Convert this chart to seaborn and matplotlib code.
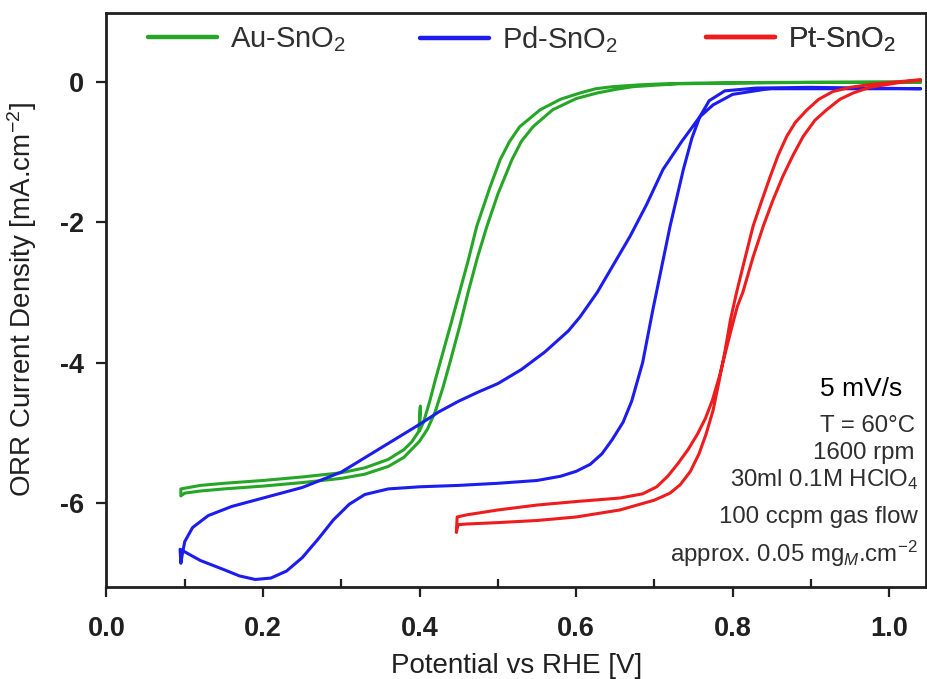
import numpy as np
import pandas as pd
import matplotlib
matplotlib.use("Agg")
import matplotlib.pyplot as plt
import seaborn as sns
from matplotlib.lines import Line2D
from matplotlib.ticker import FixedLocator

# ---------------- data ----------------
# Au-SnO2 : left branch (from high potential down), then right branch back up
au_x = [1.04, 0.95, 0.85, 0.75, 0.71, 0.68, 0.647, 0.625, 0.605, 0.58, 0.554, 0.528,
        0.515, 0.503, 0.49, 0.473, 0.462, 0.451, 0.44, 0.43, 0.42, 0.413, 0.405,
        0.400, 0.401, 0.399, 0.39, 0.38, 0.36, 0.33, 0.30, 0.25, 0.20, 0.15, 0.12, 0.095,
        0.095, 0.10, 0.12, 0.15, 0.20, 0.25, 0.30, 0.33, 0.36, 0.38, 0.40, 0.41, 0.42,
        0.43, 0.44, 0.452, 0.462, 0.474, 0.486, 0.50, 0.518, 0.53, 0.545, 0.57, 0.60,
        0.627, 0.65, 0.673, 0.70, 0.73, 0.80, 0.90, 1.04]
au_y = [0.0, -0.005, -0.01, -0.02, -0.03, -0.045, -0.07, -0.10, -0.16, -0.25, -0.40, -0.64,
        -0.85, -1.11, -1.50, -2.06, -2.55, -3.00, -3.45, -3.85, -4.25, -4.55, -4.85,
        -4.97, -4.62, -4.98, -5.13, -5.24, -5.38, -5.50, -5.57, -5.63, -5.68, -5.72, -5.75, -5.80,
        -5.90, -5.86, -5.83, -5.80, -5.76, -5.71, -5.65, -5.59, -5.48, -5.35, -5.12, -4.95, -4.70,
        -4.35, -3.95, -3.45, -3.00, -2.50, -2.06, -1.60, -1.11, -0.85, -0.64, -0.40, -0.24,
        -0.16, -0.11, -0.07, -0.05, -0.03, -0.02, -0.01, -0.01]

# Pd-SnO2 : gradual branch (down), then lower branch with minimum at 0.19 V (up)
pd_x = [1.04, 0.95, 0.85, 0.84, 0.80, 0.775, 0.758, 0.735, 0.711, 0.69, 0.669, 0.648,
        0.627, 0.605, 0.59, 0.56, 0.53, 0.50, 0.475, 0.45, 0.425, 0.40, 0.35, 0.30, 0.25,
        0.20, 0.16, 0.13, 0.11, 0.10, 0.097, 0.095, 0.094,
        0.12, 0.15, 0.17, 0.19, 0.21, 0.23, 0.25, 0.27, 0.29, 0.31, 0.33, 0.36, 0.40,
        0.45, 0.50, 0.55, 0.58, 0.60, 0.618, 0.633, 0.646, 0.66, 0.671, 0.685, 0.698,
        0.71, 0.72, 0.737, 0.748, 0.758, 0.77, 0.79, 0.83, 0.90, 1.04]
pd_y = [-0.10, -0.10, -0.10, -0.11, -0.18, -0.33, -0.50, -0.85, -1.25, -1.75, -2.20, -2.60,
        -3.00, -3.35, -3.55, -3.85, -4.10, -4.30, -4.42, -4.55, -4.70, -4.88, -5.22, -5.56, -5.78,
        -5.93, -6.05, -6.18, -6.35, -6.55, -6.72, -6.86, -6.66,
        -6.82, -6.95, -7.04, -7.09, -7.07, -6.97, -6.78, -6.52, -6.24, -6.02, -5.88, -5.80, -5.77,
        -5.75, -5.72, -5.68, -5.62, -5.55, -5.45, -5.30, -5.10, -4.85, -4.55, -4.00, -3.25,
        -2.60, -2.06, -1.25, -0.80, -0.50, -0.27, -0.13, -0.09, -0.08, -0.10]

# Pt-SnO2 : branch down, then branch back up
pt_x = [1.04, 0.975, 0.95, 0.928, 0.91, 0.895, 0.88, 0.869, 0.858, 0.848, 0.837, 0.826,
        0.815, 0.805, 0.797, 0.79, 0.782, 0.775, 0.766, 0.757, 0.746, 0.733, 0.72, 0.70,
        0.656, 0.60, 0.55, 0.50, 0.46, 0.449, 0.447, 0.448,
        0.46, 0.50, 0.55, 0.60, 0.656, 0.685, 0.703, 0.717, 0.73, 0.743, 0.755, 0.765,
        0.774, 0.783, 0.792, 0.80, 0.806, 0.813, 0.826, 0.839, 0.851, 0.864, 0.877, 0.89,
        0.905, 0.92, 0.937, 0.954, 0.975, 0.997, 1.02, 1.04]
pt_y = [0.03, -0.04, -0.08, -0.14, -0.25, -0.40, -0.58, -0.78, -1.05, -1.35, -1.70, -2.06,
        -2.55, -3.00, -3.40, -3.85, -4.30, -4.68, -5.02, -5.30, -5.55, -5.74, -5.86, -5.96,
        -6.10, -6.20, -6.25, -6.28, -6.30, -6.31, -6.42, -6.20,
        -6.17, -6.10, -6.03, -5.98, -5.93, -5.87, -5.77, -5.62, -5.44, -5.24, -5.02, -4.80,
        -4.54, -4.20, -3.80, -3.45, -3.20, -3.00, -2.50, -2.06, -1.70, -1.35, -1.05, -0.78,
        -0.55, -0.40, -0.25, -0.16, -0.08, -0.04, 0.00, 0.02]

catalysts = ["Au-SnO$_\\mathregular{2}$", "Pd-SnO$_\\mathregular{2}$", "Pt-SnO$_\\mathregular{2}$"]
colors = ["#26a626", "#1c1cee", "#ee1c1c"]

x_major = [0.0, 0.2, 0.4, 0.6, 0.8, 1.0]
x_major_labels = ["0.0", "0.2", "0.4", "0.6", "0.8", "1.0"]
x_minor = [0.1, 0.3, 0.5, 0.7, 0.9]
y_major = [0, -2, -4, -6]
y_major_labels = ["0", "-2", "-4", "-6"]

notes = ["T = 60°C", "1600 rpm", "30ml 0.1M HClO$_\\mathregular{4}$", "100 ccpm gas flow",
         "approx. 0.05 mg$_{M}$.cm$^\\mathregular{-2}$"]

# ---------------- style ----------------
sns.set_theme(style="white")
plt.rcParams["font.family"] = ["Liberation Sans", "DejaVu Sans"]
plt.rcParams["mathtext.fontset"] = "custom"
plt.rcParams["mathtext.rm"] = "Liberation Sans"
plt.rcParams["mathtext.it"] = "Liberation Sans:italic"
plt.rcParams["mathtext.bf"] = "Liberation Sans:bold"
plt.rcParams["axes.unicode_minus"] = False

df = pd.concat([
    pd.DataFrame({"V": au_x, "j": au_y, "cat": catalysts[0]}),
    pd.DataFrame({"V": pd_x, "j": pd_y, "cat": catalysts[1]}),
    pd.DataFrame({"V": pt_x, "j": pt_y, "cat": catalysts[2]}),
], ignore_index=True)

W, H = 928, 679
fig = plt.figure(figsize=(W / 100, H / 100), dpi=100)
L, R, T, B = 106.5, 926, 13, 586.7
ax = fig.add_axes([L / W, 1 - B / H, (R - L) / W, (B - T) / H])

sns.lineplot(data=df, x="V", y="j", hue="cat", hue_order=catalysts,
             palette=dict(zip(catalysts, colors)), sort=False, estimator=None,
             legend=False, linewidth=2.2, ax=ax)

ax.set_xlim(0, 1.047)
ax.set_ylim(-7.193, 0.979)

ax.set_xticks(x_major)
ax.set_xticklabels(x_major_labels, fontsize=19.5, fontweight="bold")
ax.xaxis.set_minor_locator(FixedLocator(x_minor))
ax.set_yticks(y_major)
ax.set_yticklabels(y_major_labels, fontsize=19.5, fontweight="bold")

ax.tick_params(axis="x", which="major", direction="out", length=7, width=1.6,
               bottom=True, top=False, pad=14, colors="#202020")
ax.tick_params(axis="x", which="minor", direction="in", length=6, width=1.6,
               bottom=True, top=False, colors="#202020")
ax.tick_params(axis="y", which="major", direction="out", length=7, width=1.6,
               left=True, right=False, pad=9, colors="#202020")
for s in ax.spines.values():
    s.set_color("#202020")
    s.set_linewidth(2.0)

ax.set_xlabel("Potential vs RHE [V]", fontsize=20, color="#202020")
ax.set_ylabel("ORR Current Density [mA.cm$^\\mathregular{-2}$]", fontsize=20, color="#202020")
ax.xaxis.set_label_coords(0.5, -0.116)
ax.yaxis.set_label_coords(-0.082, 0.5)

# legends, one per entry so they sit where the reference places them
leg_x = [(148 - L) / (R - L), (420 - L) / (R - L), (706 - L) / (R - L)]
leg_y = (B - 40) / (B - T)
fs_leg = 21
for lab, col, lx in zip(catalysts, colors, leg_x):
    h = Line2D([], [], color=col, linewidth=3.2)
    lg = ax.legend(handles=[h], labels=[lab], loc="center left", bbox_to_anchor=(lx, leg_y),
                   frameon=False, borderpad=0, borderaxespad=0, fontsize=fs_leg,
                   handlelength=2.35, handletextpad=0.45)
    for t in lg.get_texts():
        t.set_color("#303030")
    ax.add_artist(lg)

# annotations
ax.text((902 - L) / (R - L), (B - 395.7) / (B - T), "5 mV/s", transform=ax.transAxes,
        ha="right", va="baseline", fontsize=19, color="black")
note_base = [431.7, 459.3, 486.0, 523.3, 561.7]
note_right = [915, 915, 918, 918, 918]
for txt, yb, xr in zip(notes, note_base, note_right):
    ax.text((xr - L) / (R - L), (B - yb) / (B - T), txt, transform=ax.transAxes,
            ha="right", va="baseline", fontsize=17.3, color="#2e2e2e")

fig.savefig("out.png", dpi=100)
